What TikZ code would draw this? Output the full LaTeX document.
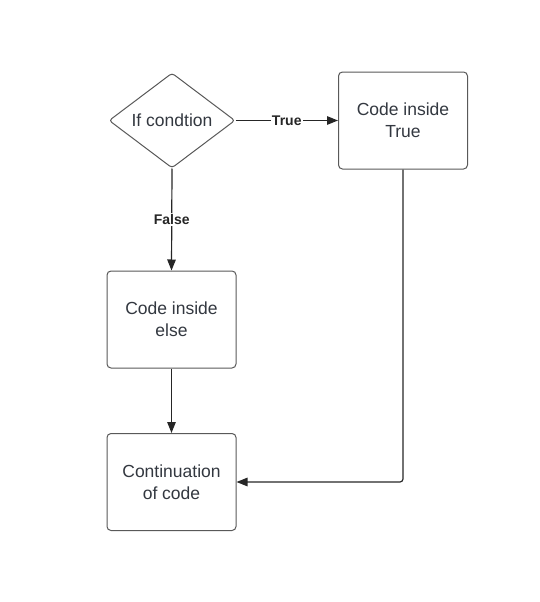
\documentclass[tikz,border=0pt]{standalone}
\usepackage{fontspec}
\setmainfont{Liberation Sans}
\usetikzlibrary{shapes.geometric,arrows.meta}

\definecolor{textcolor}{rgb}{0.200000, 0.220000, 0.250000}
\definecolor{bordercolor}{rgb}{0.350000, 0.350000, 0.350000}
\definecolor{linecolor}{rgb}{0.150000, 0.150000, 0.150000}

\tikzset{
  stepbox/.style={draw=bordercolor, line width=1pt, rounded corners=4pt, fill=white,
    minimum width=129pt, minimum height=97pt, align=center, text=textcolor,
    font=\fontsize{17.5}{22}\selectfont},
  decision/.style={draw=bordercolor, line width=1pt, diamond, rounded corners=3pt, fill=white,
    minimum width=126pt, minimum height=95pt, inner sep=0pt, aspect=1.33, text=textcolor,
    font=\fontsize{17.5}{22}\selectfont},
  flow/.style={draw=linecolor, line width=1.2pt, -{Triangle[length=11pt,width=8.5pt]}},
  flowlabel/.style={fill=white, inner sep=1pt, text=linecolor, font=\bfseries\fontsize{14}{16}\selectfont}
}

\begin{document}
\begin{tikzpicture}[x=1pt,y=-1pt]
\useasboundingbox (0,0) rectangle (539,602);
% nodes
\node[decision] (cond) at (172,120.5) {If condtion};
\node[stepbox] (iftrue) at (403,120.5) {Code inside\\True};
\node[stepbox] (ifelse) at (171.5,319.5) {Code inside\\else};
\node[stepbox] (after) at (171.5,482) {Continuation\\of code};
\coordinate (turn) at (iftrue.south |- after.east);
% connectors
\draw[flow] (cond.east) -- node[flowlabel, pos=0.5]{True} (iftrue.west);
\draw[flow] (cond.south) -- node[flowlabel, pos=0.5]{False} (ifelse.north);
\draw[flow] (ifelse.south) -- (after.north);
\draw[flow, rounded corners=3pt] (iftrue.south) -- (turn) -- (after.east);
\end{tikzpicture}
\end{document}
